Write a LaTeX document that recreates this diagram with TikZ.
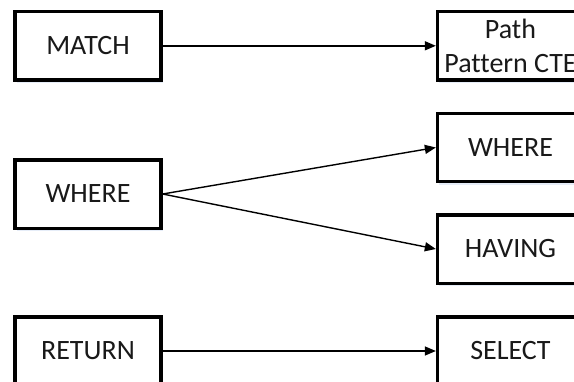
\documentclass[tikz,border=0pt]{standalone}
\usepackage{fontspec}
\setmainfont{Carlito}[Ligatures=NoCommon]
\usetikzlibrary{arrows.meta,shadows}

\definecolor{shadowblue}{RGB}{230,237,248}

\tikzset{
  clause/.style={
    draw=black, line width=3.3pt, fill=white,
    minimum width=146pt, minimum height=68.3pt, inner sep=0pt,
    align=center, text=black!90,
    font=\fontsize{28}{34}\selectfont,
    drop shadow={shadow xshift=1.5pt, shadow yshift=-3pt, fill=shadowblue, opacity=1}
  },
  maps/.style={line width=1.4pt, -{Triangle[length=11pt,width=9pt]}}
}

\begin{document}
\begin{tikzpicture}[x=1pt,y=-1pt]
  \useasboundingbox (0,0) rectangle (574,381);
  \clip (0,0) rectangle (574,381);

  % Cypher clauses
  \node[clause] (match)  at (88,45.8)   {MATCH};
  \node[clause] (where)  at (88,194)    {WHERE};
  \node[clause] (return) at (88,351)    {RETURN};

  % SQL counterparts
  \node[clause] (cte)    at (510.5,45.8) {Path\\Pattern CTE};
  \node[clause] (swhere) at (510.5,147.5) {WHERE};
  \node[clause] (having) at (510.5,249)  {HAVING};
  \node[clause] (select) at (510.5,351)  {SELECT};

  % translations
  \draw[maps] (match.east)  -- (cte.west);
  \draw[maps] (where.east)  -- (swhere.west);
  \draw[maps] (where.east)  -- (having.west);
  \draw[maps] (return.east) -- (select.west);
\end{tikzpicture}
\end{document}
